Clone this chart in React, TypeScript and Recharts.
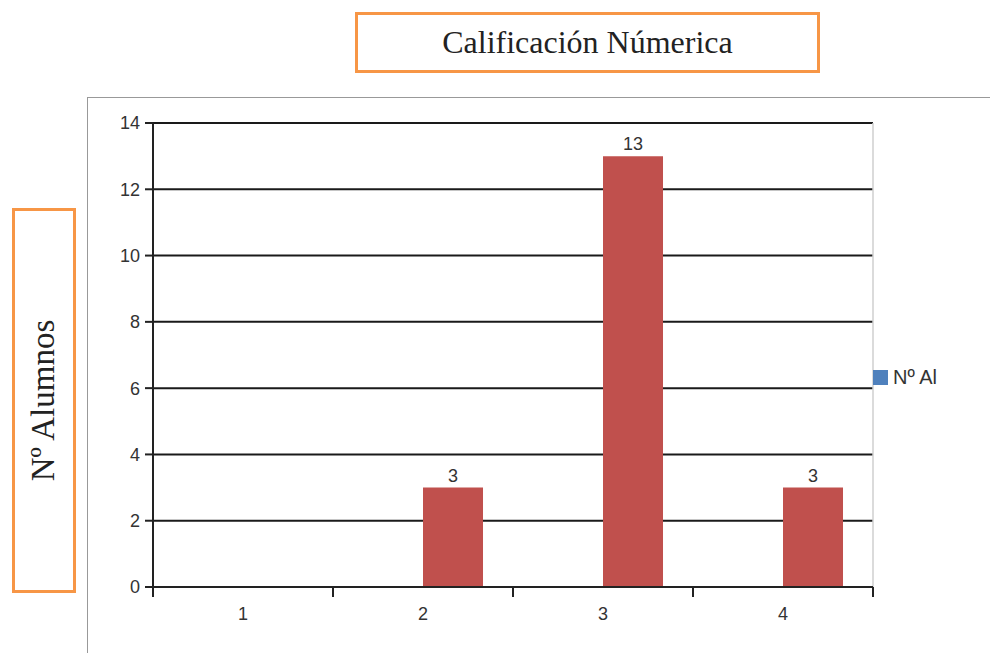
import React from 'react'
import { BarChart, Bar, XAxis, YAxis, CartesianGrid, LabelList } from 'recharts'

// categorías (calificación) y series
const categories = ['1', '2', '3', '4']
const serieAzul: (number | null)[] = [null, null, null, null]
const alumnos: (number | null)[] = [null, 3, 13, 3]
const yTicks = [0, 2, 4, 6, 8, 10, 12, 14]
const legendName = 'Nº Al'

const data = categories.map((c, i) => ({ cal: c, azul: serieAzul[i], alumnos: alumnos[i] }))

const W = 990
const H = 653
const PLOT_LEFT = 153
const PLOT_RIGHT = 873
const PLOT_TOP = 123
const PLOT_BOTTOM = 587
const Y_AXIS_W = 60
const X_AXIS_H = 40
const BAND = (PLOT_RIGHT - PLOT_LEFT) / categories.length

const font = '"Liberation Sans", Arial, sans-serif'
const serif = '"Liberation Serif", "Times New Roman", serif'

function XTick(props: any) {
  const { x, y, payload, index } = props
  const top = y - 8
  return (
    <g>
      <line x1={x - BAND / 2} x2={x - BAND / 2} y1={top} y2={y + 2} stroke="#222" strokeWidth={2} />
      {index === categories.length - 1 && (
        <line x1={x + BAND / 2} x2={x + BAND / 2} y1={top} y2={y + 2} stroke="#222" strokeWidth={2} />
      )}
      <text x={x} y={y + 25} textAnchor="middle" fill="#333" fontSize={18} fontFamily={font}>
        {payload.value}
      </text>
    </g>
  )
}

export default function App() {
  return (
    <div style={{ position: 'absolute', left: 0, top: 0, width: W, height: H, background: '#fff', overflow: 'hidden' }}>
      {/* marco del área del gráfico */}
      <div style={{ position: 'absolute', left: 87, top: 97, width: W, height: H, borderLeft: '1px solid #999', borderTop: '1px solid #999' }} />

      {/* título */}
      <div
        style={{
          position: 'absolute', left: 355, top: 12, width: 459, height: 55,
          border: '3px solid #F79646', display: 'flex', alignItems: 'center', justifyContent: 'center',
          fontFamily: serif, fontSize: 32, color: '#222',
        }}
      >
        Calificación Númerica
      </div>

      {/* título eje Y */}
      <div
        style={{
          position: 'absolute', left: 12, top: 208, width: 58, height: 379,
          border: '3px solid #F79646', display: 'flex', alignItems: 'center', justifyContent: 'center',
        }}
      >
        <div style={{ transform: 'rotate(-90deg)', whiteSpace: 'nowrap', fontFamily: serif, fontSize: 33, color: '#222' }}>
          Nº Alumnos
        </div>
      </div>

      <div style={{ position: 'absolute', left: 0, top: 0 }}>
        <BarChart
          width={W}
          height={H}
          data={data}
          margin={{ top: PLOT_TOP, left: PLOT_LEFT - Y_AXIS_W, right: W - PLOT_RIGHT, bottom: H - PLOT_BOTTOM - X_AXIS_H }}
          barCategoryGap="16.67%"
          barGap={0}
        >
          <CartesianGrid vertical={false} stroke="#1a1a1a" strokeWidth={2} />
          <CartesianGrid horizontal={false} verticalPoints={[PLOT_RIGHT]} stroke="#cfcfcf" strokeWidth={1.5} />
          <XAxis
            dataKey="cal"
            height={X_AXIS_H}
            axisLine={{ stroke: '#222', strokeWidth: 2 }}
            tickLine={false}
            tickSize={8}
            tickMargin={0}
            tick={<XTick />}
            interval={0}
          />
          <YAxis
            width={Y_AXIS_W}
            domain={[0, 14]}
            ticks={yTicks}
            interval={0}
            axisLine={{ stroke: '#222', strokeWidth: 2 }}
            tickLine={{ stroke: '#222', strokeWidth: 2 }}
            tickSize={8}
            tickMargin={5}
            tick={{ fill: '#333', fontSize: 18, fontFamily: font }}
          />
          <Bar dataKey="azul" fill="#4F81BD" isAnimationActive={false} />
          <Bar dataKey="alumnos" fill="#C0504D" isAnimationActive={false}>
            <LabelList dataKey="alumnos" position="top" offset={6} fill="#333" fontSize={18} fontFamily={font} />
          </Bar>
        </BarChart>
      </div>

      {/* leyenda */}
      <div style={{ position: 'absolute', left: 873, top: 366, display: 'flex', alignItems: 'center', fontFamily: font, fontSize: 20, color: '#333' }}>
        <span style={{ display: 'inline-block', width: 15, height: 15, background: '#4F81BD', marginRight: 5 }} />
        {legendName}
      </div>
    </div>
  )
}
